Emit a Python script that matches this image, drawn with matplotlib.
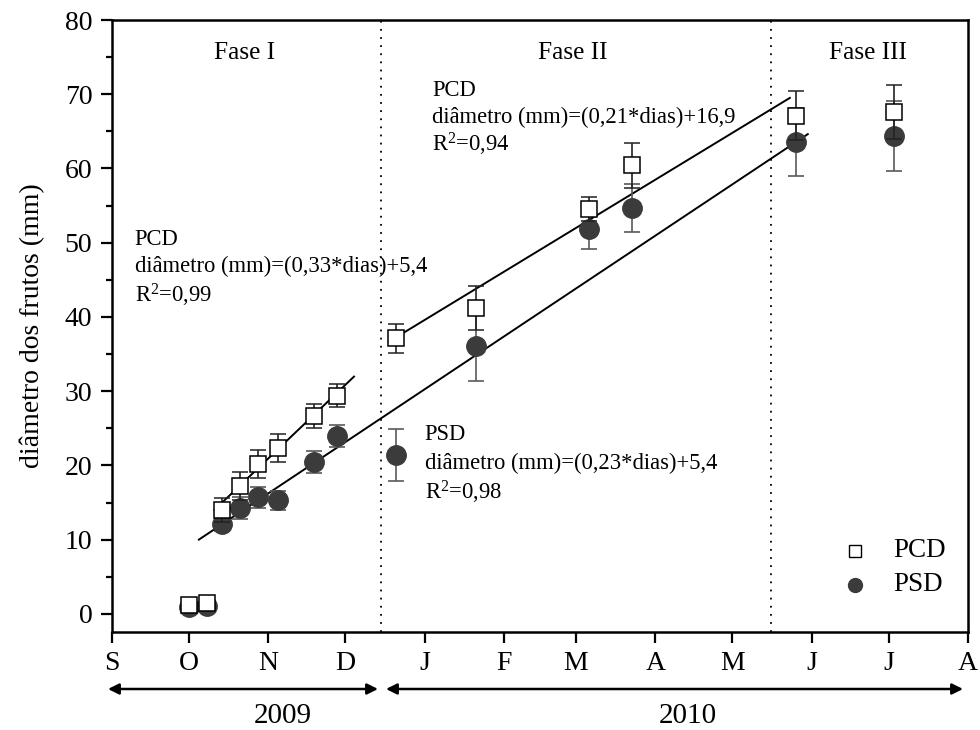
import matplotlib
matplotlib.use("Agg")
import matplotlib.pyplot as plt
import numpy as np

plt.rcParams['font.family'] = ['Liberation Serif', 'DejaVu Serif']
plt.rcParams['mathtext.fontset'] = 'custom'
plt.rcParams['mathtext.rm'] = 'Liberation Serif'
plt.rcParams['mathtext.it'] = 'Liberation Serif:italic'

# Sampling dates, as days counted from 1 September 2009
days = [30, 37, 43, 50, 57, 65, 79, 88, 111, 142, 186, 203, 267, 305]

# Fruit diameter (mm) and standard deviation
pcd_mean = [1.2, 1.4, 14.0, 17.2, 20.2, 22.3, 26.7, 29.4, 37.1, 41.2, 54.5, 60.4, 67.1, 67.6]
pcd_sd = [0.3, 0.3, 1.6, 1.9, 1.9, 1.9, 1.6, 1.6, 2.0, 3.0, 1.6, 3.0, 3.3, 3.6]
psd_mean = [0.9, 1.1, 12.1, 14.3, 15.7, 15.3, 20.5, 24.0, 21.4, 36.1, 51.8, 54.7, 63.6, 64.4]
psd_sd = [0.3, 0.3, 1.0, 1.5, 1.4, 1.3, 1.5, 1.5, 3.5, 4.7, 2.6, 3.2, 4.6, 4.7]

# Month ticks (first day of each month, days from 1 Sep 2009)
month_days = [0, 30, 61, 91, 122, 153, 181, 212, 242, 273, 303, 334]
month_labels = ['S', 'O', 'N', 'D', 'J', 'F', 'M', 'A', 'M', 'J', 'J', 'A']

# Phase boundaries (15 Dec 2009, 16 May 2010)
phase_limits = [105, 257]
phase_names = ['Fase I', 'Fase II', 'Fase III']

# Linear fits: slope, intercept, day range; "dias" counted from 15 Sep 2009
dias_origin = 14
fit_pcd1 = (0.33, 5.4, 40, 94.5)
fit_pcd2 = (0.21, 16.9, 108, 264.5)
fit_psd = (0.23, 5.4, 34, 271.5)

fig = plt.figure(figsize=(9.8, 7.3), dpi=100)
ax = fig.add_axes([0.114, 0.1347, 0.8738, 0.8379])

for slope, icpt, d_start, d_end in (fit_pcd1, fit_pcd2, fit_psd):
    xd = np.array([d_start, d_end])
    ax.plot(xd, slope * (xd - dias_origin) + icpt, color='black', lw=1.4, zorder=2)

for xv in phase_limits:
    ax.axvline(xv, color='black', ls=(0, (1, 3.5)), lw=1.3, zorder=1)

ax.errorbar(days, psd_mean, yerr=psd_sd, fmt='o', ms=14, color='#3b3b3b',
            ecolor='#5a5a5a', elinewidth=1.2, capsize=6, capthick=1.2, zorder=3)
ax.errorbar(days, pcd_mean, yerr=pcd_sd, fmt='s', ms=11.5, mfc='white', mec='black',
            mew=1.1, ecolor='#222222', elinewidth=1.2, capsize=6, capthick=1.2, zorder=4)

ax.set_xlim(0, 334)
ax.set_ylim(-2.4, 80)
ax.set_xticks(month_days)
ax.set_xticklabels(month_labels)
ax.set_yticks(np.arange(0, 81, 10))
ax.set_yticks(np.arange(5, 80, 10), minor=True)
ax.tick_params(axis='both', which='major', direction='out', length=8, width=1.6,
               labelsize=20, pad=6)
ax.tick_params(axis='y', which='minor', direction='out', length=4.5, width=1.6)
for sp in ax.spines.values():
    sp.set_linewidth(1.8)
ax.set_ylabel('diâmetro dos frutos (mm)', fontsize=20, labelpad=14)

# Phase titles
for xc, name in zip([52, 180, 295], phase_names):
    ax.text(xc, 75.5, name, ha='center', va='center', fontsize=18.3)

tfs = 16.3
ax.text(9, 50.4, 'PCD', fontsize=tfs, va='center')
ax.text(9, 46.8, 'diâmetro (mm)=(0,33*dias)+5,4', fontsize=tfs, va='center')
ax.text(9, 42.9, r'R$^{\mathrm{2}}$=0,99', fontsize=tfs, va='center')

ax.text(125, 70.5, 'PCD', fontsize=tfs, va='center')
ax.text(125, 66.9, 'diâmetro (mm)=(0,21*dias)+16,9', fontsize=tfs, va='center')
ax.text(125, 63.2, r'R$^{\mathrm{2}}$=0,94', fontsize=tfs, va='center')

ax.text(122, 24.2, 'PSD', fontsize=tfs, va='center')
ax.text(122, 20.3, 'diâmetro (mm)=(0,23*dias)+5,4', fontsize=tfs, va='center')
ax.text(122, 16.4, r'R$^{\mathrm{2}}$=0,98', fontsize=tfs, va='center')

# Legend
ax.plot([290], [8.5], 's', ms=8, mfc='white', mec='black', mew=1.0)
ax.plot([290], [3.9], 'o', ms=10, color='#3b3b3b')
ax.text(305, 8.5, 'PCD', fontsize=19.5, va='center')
ax.text(305, 3.9, 'PSD', fontsize=19.5, va='center')

# Year arrows below the axis
arrow_kw = dict(arrowstyle='<|-|>', color='black', lw=1.8, mutation_scale=16,
                shrinkA=0, shrinkB=0)
fig.add_artist(matplotlib.patches.FancyArrowPatch((108, 41), (378, 41),
                                                  transform=None, **arrow_kw))
fig.add_artist(matplotlib.patches.FancyArrowPatch((386, 41), (963, 41),
                                                  transform=None, **arrow_kw))
fig.text(283, 14, '2009', transform=None, ha='center', va='center', fontsize=21)
fig.text(688, 14, '2010', transform=None, ha='center', va='center', fontsize=21)

fig.savefig('out.png', dpi=100)
